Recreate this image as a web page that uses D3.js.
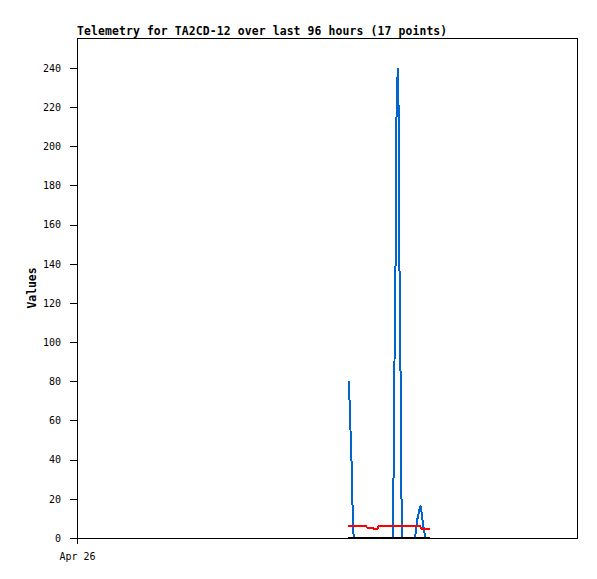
<!DOCTYPE html>
<html><head><meta charset="utf-8">
<script src="https://cdn.jsdelivr.net/npm/d3@7"></script>
<style>body{margin:0;background:#fff}</style>
</head><body>
<svg id="c" width="597" height="579"></svg>
<script>
// hours since Apr 26 00:00
const blueHours = [52.13,52.3,52.5,52.7,52.82,53.0,53.13,60.72,60.77,60.96,61.2,61.3,61.58,61.77,61.83,61.97,62.17,62.26,62.5,64.9,65.3,65.7,66.0,66.3,66.6,66.9,67.8];
const blueValues = [80,72,56,40,23.5,7.7,0,0,30,90,150,210,240,216,168,120,72,25,0,0,9,14,16.5,10,4,0,0];
const redHours = [52.05,55.5,55.7,56.7,56.9,57.7,57.9,65.9,66.1,67.8];
const redValues = [5.9,5.9,5.3,5.3,4.8,4.8,5.9,5.9,4.8,4.8];
const blackHours = [52.05,67.8];
const blackValues = [0,0];
const yTicks = [0,20,40,60,80,100,120,140,160,180,200,220,240];
const xTickLabel = "Apr 26";
const title = "Telemetry for TA2CD-12 over last 96 hours (17 points)";

const svg = d3.select("#c");
const L=77,R=577,T=38,B=538;
const x = d3.scaleLinear().domain([0,96]).range([L,R]);
const y = d3.scaleLinear().domain([0,255.3]).range([B,T]);
const mono = "'DejaVu Sans Mono', monospace";

svg.append("rect").attr("x",L).attr("y",T).attr("width",R-L).attr("height",B-T)
  .attr("fill","#fff").attr("stroke","#000").attr("stroke-width",1).attr("shape-rendering","crispEdges");

const yAxis = svg.append("g").attr("transform",`translate(${L},0)`)
  .call(d3.axisLeft(y).tickValues(yTicks).tickSize(7).tickPadding(9));
yAxis.select(".domain").remove();
yAxis.selectAll("line").attr("stroke","#000").attr("shape-rendering","crispEdges");
yAxis.selectAll("text").attr("font-family",mono).attr("font-size","10px").attr("fill","#000");

const xAxis = svg.append("g").attr("transform",`translate(0,${B})`)
  .call(d3.axisBottom(x).tickValues([0]).tickFormat(()=>xTickLabel).tickSize(6).tickPadding(9));
xAxis.select(".domain").remove();
xAxis.selectAll("line").attr("stroke","#000").attr("shape-rendering","crispEdges");
xAxis.selectAll("text").attr("font-family",mono).attr("font-size","10px").attr("fill","#000");

const line = d3.line().x(d=>x(d[0])).y(d=>y(d[1]));
function draw(hs,vs,color){
  svg.append("path").datum(hs.map((h,i)=>[h,vs[i]])).attr("d",line)
    .attr("fill","none").attr("stroke",color).attr("stroke-width",2)
    .attr("stroke-linejoin","miter").attr("shape-rendering","crispEdges");
}
draw(blueHours,blueValues,"#0066cc");
draw(blackHours,blackValues,"#000");
draw(redHours,redValues,"#ff0000");

svg.append("text").attr("x",L).attr("y",35).attr("font-family",mono).attr("font-weight","bold")
  .attr("font-size","11.4px").attr("letter-spacing","0.13px").attr("fill","#000").text(title);
svg.append("text").attr("transform",`translate(36,${(T+B)/2}) rotate(-90)`).attr("text-anchor","middle")
  .attr("font-family",mono).attr("font-weight","bold").attr("font-size","11.4px").attr("fill","#000").text("Values");
</script>
</body></html>
